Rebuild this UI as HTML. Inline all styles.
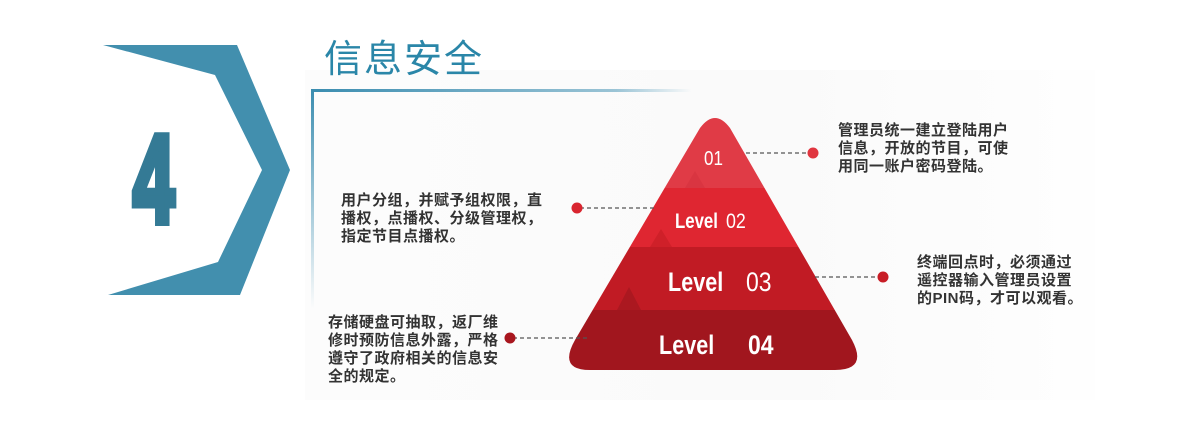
<!DOCTYPE html>
<html><head><meta charset="utf-8"><style>
html,body{margin:0;padding:0;background:#fff;}
body{width:1200px;height:428px;position:relative;overflow:hidden;font-family:"Liberation Sans","Noto Sans CJK SC",sans-serif;}
.t{position:absolute;font-size:15px;font-weight:bold;color:#333;line-height:18px;letter-spacing:0.5px;white-space:nowrap;font-family:"Liberation Sans","Noto Sans CJK SC",sans-serif;}
</style></head><body>
<div style="position:absolute;left:305px;top:70px;width:790px;height:330px;background:linear-gradient(90deg,#fcfcfc,#fafafa 60%,#fefefe);"></div>
<svg width="1200" height="428" style="position:absolute;left:0;top:0">
<defs>
<linearGradient id="hl" x1="0" x2="1"><stop offset="0" stop-color="#3b8db0"/><stop offset="0.8" stop-color="#3b8db0" stop-opacity="0.5"/><stop offset="1" stop-color="#3b8db0" stop-opacity="0"/></linearGradient>
<linearGradient id="vl" x1="0" x2="0" y1="0" y2="1"><stop offset="0" stop-color="#3b8db0"/><stop offset="1" stop-color="#3b8db0" stop-opacity="0"/></linearGradient>
<clipPath id="pc"><path d="M700,128 Q715,108 730,128 L852,340 Q868,370 835,370 L590,370 Q558,370 575,340 Z"/></clipPath>
</defs>
<polygon points="103,45 237,45 290,170 240,295 108,295 218,262 262,170 215,75" fill="#428fae"/>
<rect x="312" y="89" width="380" height="3" fill="url(#hl)"/>
<rect x="311" y="89" width="3" height="220" fill="url(#vl)"/>
<g clip-path="url(#pc)">
<rect x="560" y="100" width="310" height="88" fill="#e03b46"/>
<rect x="560" y="188" width="310" height="59" fill="#df2631"/>
<rect x="560" y="247" width="310" height="63" fill="#c11b24"/>
<rect x="560" y="310" width="310" height="62" fill="#a1161e"/>
<polygon points="685,188 695,171 705,188" fill="#d93541"/>
<polygon points="650,247 661,229 672,247" fill="#cf2029"/>
<polygon points="617,310 629,287 641,310" fill="#ab1820"/>
</g>
<g stroke="#555" stroke-width="1.3" stroke-dasharray="4,3">
<line x1="746" y1="153" x2="808" y2="153"/>
<line x1="580" y1="208" x2="655" y2="208"/>
<line x1="815" y1="277" x2="880" y2="277"/>
<line x1="513" y1="338" x2="590" y2="338"/>
</g>
<circle cx="813" cy="153" r="5.5" fill="#e0353f"/>
<circle cx="577" cy="208" r="5.5" fill="#d9252f"/>
<circle cx="883" cy="277" r="5.5" fill="#c81d26"/>
<circle cx="510" cy="338" r="5.5" fill="#a8161e"/>
<g fill="#fff" style="font-family:'Liberation Sans',sans-serif">
<text transform="translate(704,165) scale(0.85,1)" font-size="20">01</text>
<text transform="translate(675,228) scale(0.8,1)" font-size="21" font-weight="bold">Level</text>
<text transform="translate(726,228) scale(0.85,1)" font-size="21">02</text>
<text transform="translate(668,291) scale(0.8,1)" font-size="27" font-weight="bold">Level</text>
<text transform="translate(746,291) scale(0.85,1)" font-size="27">03</text>
<text transform="translate(659,354) scale(0.8,1)" font-size="27" font-weight="bold">Level</text>
<text transform="translate(748,354) scale(0.85,1)" font-size="27" font-weight="bold">04</text>
</g>
<text transform="translate(133,222) scale(0.6,1)" font-size="124" font-weight="bold" fill="#347a95" stroke="#347a95" stroke-width="8" stroke-linejoin="miter" style="font-family:'Liberation Sans',sans-serif;font-weight:bold">4</text>
</svg>
<div style="position:absolute;left:324px;top:36px;font-size:38px;color:#2a86a8;letter-spacing:2px;font-family:'Liberation Sans','Noto Sans CJK SC',sans-serif;line-height:48px;">信息安全</div>
<div class="t" style="left:838px;top:122px;">管理员统一建立登陆用户<br>信息，开放的节目，可使<br>用同一账户密码登陆。</div>
<div class="t" style="left:341px;top:192px;">用户分组，并赋予组权限，直<br>播权，点播权、分级管理权，<br>指定节目点播权。</div>
<div class="t" style="left:917px;top:254px;">终端回点时，必须通过<br>遥控器输入管理员设置<br>的PIN码，才可以观看。</div>
<div class="t" style="left:328px;top:314px;">存储硬盘可抽取，返厂维<br>修时预防信息外露，严格<br>遵守了政府相关的信息安<br>全的规定。</div>
</body></html>
